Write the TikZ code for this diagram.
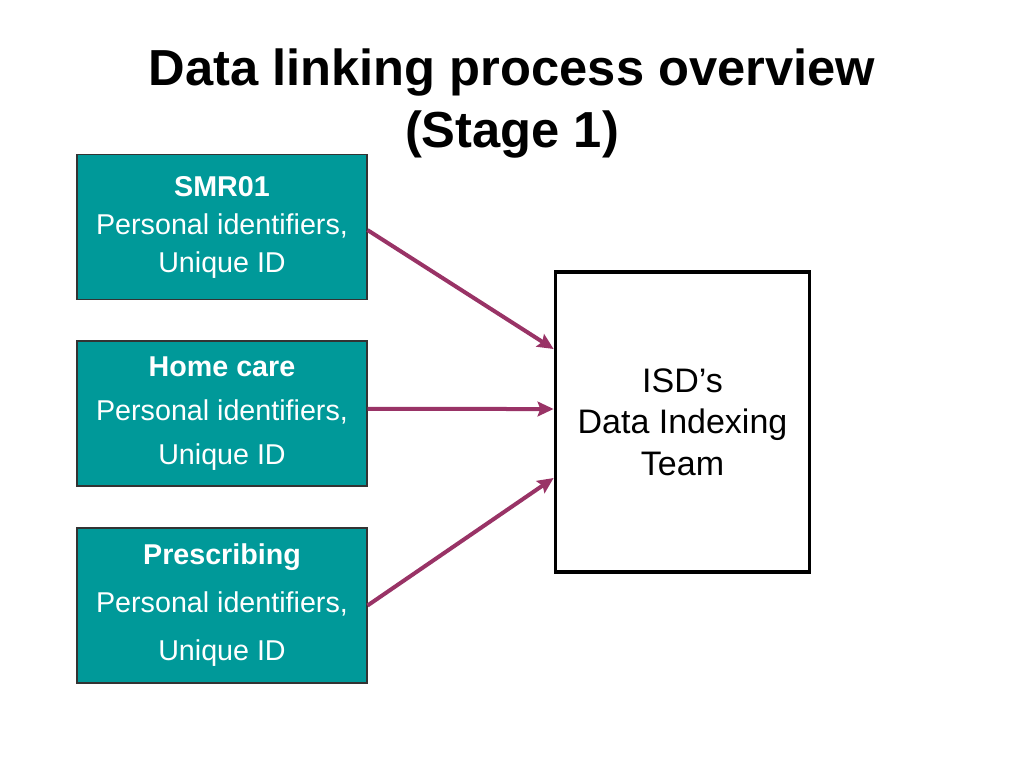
\documentclass[tikz,border=0pt]{standalone}
\usepackage{fontspec}
\setmainfont{Liberation Sans}
\usetikzlibrary{arrows.meta, positioning}
\usepackage{xcolor}
\definecolor{srcteal}{RGB}{0,153,153}
\definecolor{feedpurple}{RGB}{153,51,102}

\tikzset{
  srcbox/.style={draw=black!80, line width=0.8pt, fill=srcteal, text=white,
    minimum width=217.5pt, minimum height=108.75pt, align=center, inner sep=0pt},
  teambox/.style={draw=black, line width=2.3pt, fill=white,
    minimum width=191pt, minimum height=225pt, align=center, inner sep=0pt},
  feed/.style={draw=feedpurple, line width=3pt,
    -{Stealth[length=12pt, width=11pt, inset=2pt]}}
}

\begin{document}
\begin{tikzpicture}[x=0.75pt, y=-0.75pt]
\useasboundingbox (0, 0) rectangle (1024, 768);

\node[align=center, font=\fontsize{38}{46.5}\selectfont\bfseries] (title) at (512, 104)
  {Data linking process overview\\(Stage 1)};

\node[srcbox, font=\fontsize{21.5}{28.5}\selectfont] (smr) at (222, 227)
  {\textbf{SMR01}\\Personal identifiers,\\Unique ID};
\node[srcbox, font=\fontsize{21.5}{33}\selectfont] (home) at (222, 413.5)
  {\textbf{Home care}\\Personal identifiers,\\Unique ID};
\node[srcbox, minimum height=116.25pt, font=\fontsize{21.5}{36}\selectfont] (presc) at (222, 605.5)
  {\textbf{Prescribing}\\Personal identifiers,\\Unique ID};

\node[teambox, font=\fontsize{25.5}{31}\selectfont] (isd) at (682.5, 422)
  {ISD's\\Data Indexing\\ Team};

\draw[feed] ([yshift=-2.3pt]smr.east) -- ([yshift=54.75pt]isd.west);
\draw[feed] ([yshift=3.4pt]home.east) -- ([yshift=9.75pt]isd.west);
\draw[feed] (presc.east) -- ([yshift=-42pt]isd.west);
\end{tikzpicture}
\end{document}
